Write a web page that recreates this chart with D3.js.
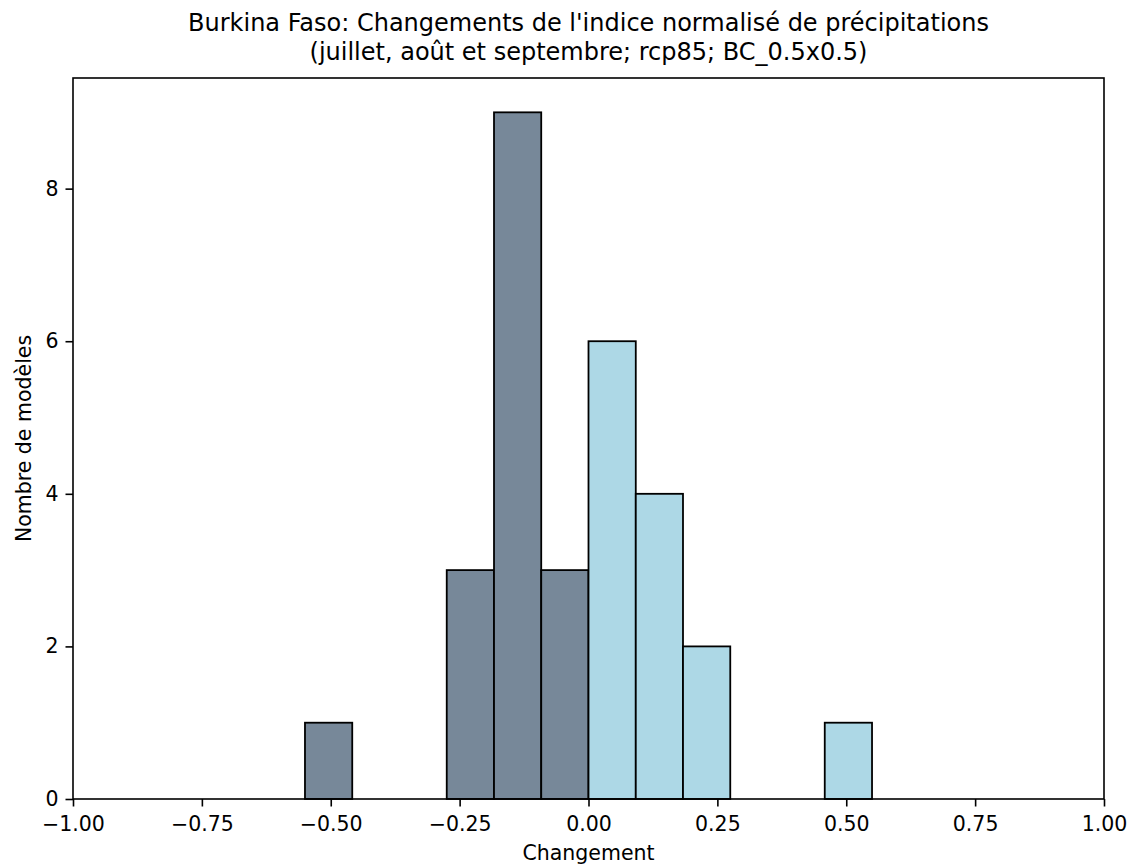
<!DOCTYPE html>
<html><head><meta charset="utf-8">
<script src="https://cdn.jsdelivr.net/npm/d3@7"></script>
<style>body{margin:0;background:#fff;font-family:"DejaVu Sans",sans-serif;}</style>
</head><body><svg id="c" width="1132" height="867"></svg>
<script>
const binEdges = [-0.55,-0.4583,-0.3667,-0.275,-0.1833,-0.0917,0,0.0917,0.1833,0.275,0.3667,0.4583,0.55];
const counts = [1,0,0,3,9,3,6,4,2,0,0,1];
const xTicks = [-1,-0.75,-0.5,-0.25,0,0.25,0.5,0.75,1];
const yTicks = [0,2,4,6,8];
const titleLines = ["Burkina Faso: Changements de l'indice normalisé de précipitations","(juillet, août et septembre; rcp85; BC_0.5x0.5)"];

const svg = d3.select("#c");
const m = {l:73, r:1104, t:78, b:799};
const x = d3.scaleLinear().domain([-1,1]).range([m.l,m.r]);
const y = d3.scaleLinear().domain([0,9.45]).range([m.b,m.t]);

const bins = counts.map((c,i)=>({x0:binEdges[i],x1:binEdges[i+1],c}));
svg.append("g").selectAll("rect").data(bins.filter(d=>d.c>0)).join("rect")
  .attr("x",d=>x(d.x0)).attr("width",d=>x(d.x1)-x(d.x0))
  .attr("y",d=>y(d.c)).attr("height",d=>y(0)-y(d.c))
  .attr("fill",d=>d.x0<0?"#778899":"#add8e6")
  .attr("stroke","#000").attr("stroke-width",1.8);

const fs = "20.5px";
const xa = svg.append("g").attr("transform",`translate(0,${m.b})`)
  .call(d3.axisBottom(x).tickValues(xTicks).tickSize(7.5).tickPadding(10).tickFormat(d=>d3.format(".2f")(d).replace("-","\u2212")));
const ya = svg.append("g").attr("transform",`translate(${m.l},0)`)
  .call(d3.axisLeft(y).tickValues(yTicks).tickSize(7.5).tickPadding(7).tickFormat(d3.format("d")));
[xa,ya].forEach(a=>{a.select(".domain").remove();a.selectAll("text").attr("font-size",fs).attr("font-family","DejaVu Sans").attr("fill","#000");a.selectAll("line").attr("stroke","#000").attr("stroke-width",1.6);});

svg.append("rect").attr("x",m.l).attr("y",m.t).attr("width",m.r-m.l).attr("height",m.b-m.t)
  .attr("fill","none").attr("stroke","#000").attr("stroke-width",1.6);

svg.append("text").attr("x",(m.l+m.r)/2).attr("y",860).attr("text-anchor","middle").attr("font-size",fs).text("Changement");
svg.append("text").attr("transform",`translate(31,${(m.t+m.b)/2}) rotate(-90)`).attr("text-anchor","middle").attr("font-size",fs).text("Nombre de modèles");
titleLines.forEach((t,i)=>svg.append("text").attr("x",(m.l+m.r)/2).attr("y",31+i*29).attr("text-anchor","middle").attr("font-size","24px").text(t));
</script></body></html>
